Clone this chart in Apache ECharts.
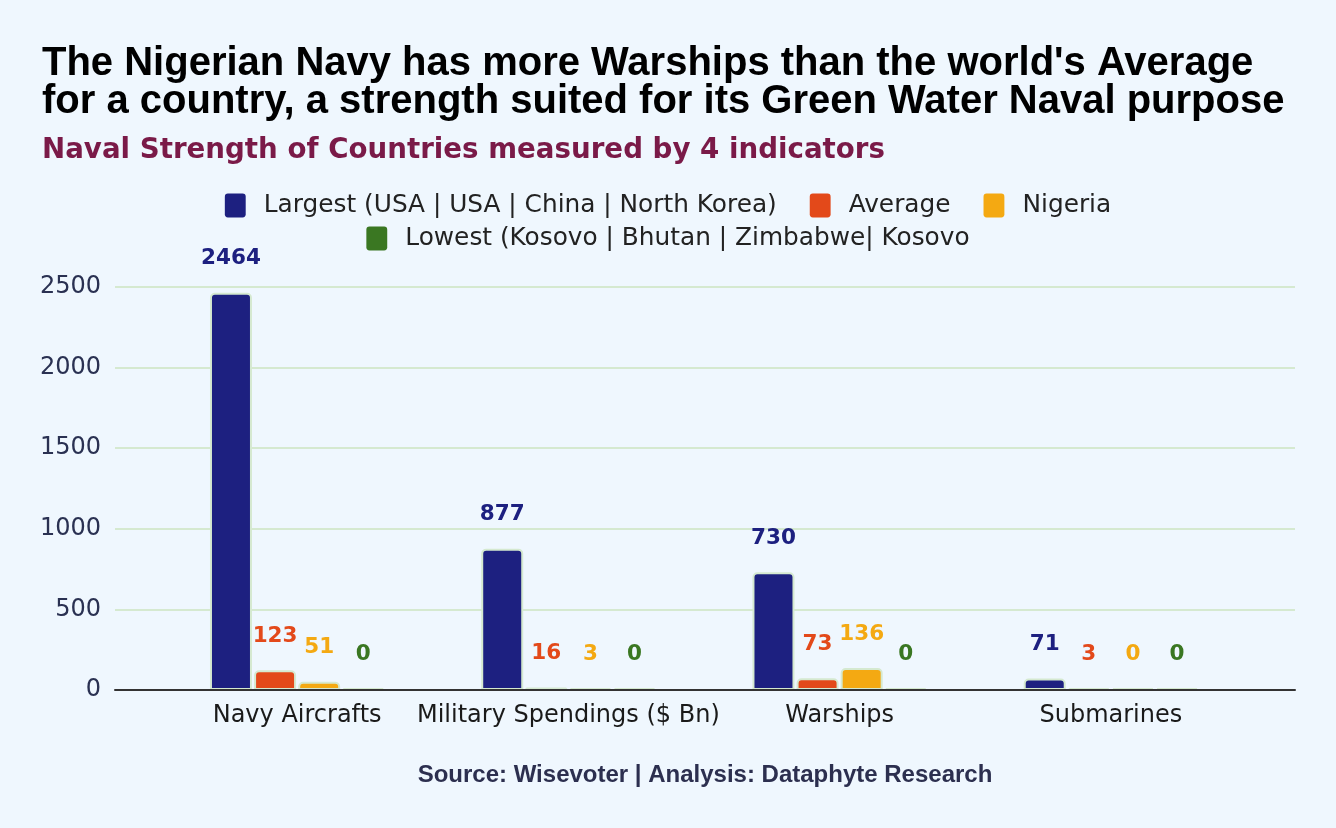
<!DOCTYPE html>
<html>
<head>
<meta charset="utf-8">
<script src="https://cdn.jsdelivr.net/npm/echarts@6/dist/echarts.min.js"></script>
<style>
html,body{margin:0;padding:0;background:#eff7fe;}
#chart{width:1336px;height:828px;}
</style>
</head>
<body>
<div id="chart"></div>
<script>
const categories = ['Navy Aircrafts', 'Military Spendings ($ Bn)', 'Warships', 'Submarines'];
const seriesNames = ['Largest (USA | USA | China | North Korea)', 'Average', 'Nigeria', 'Lowest (Kosovo | Bhutan | Zimbabwe| Kosovo'];
const largest = [2464, 877, 730, 71];
const average = [123, 16, 73, 3];
const nigeria = [51, 3, 136, 0];
const lowest = [0, 0, 0, 0];
const yTicks = [0, 500, 1000, 1500, 2000, 2500];

const colors = ['#1d2080', '#e3491a', '#f4a912', '#3a7722'];
const values = [largest, average, nigeria, lowest];
const ARIAL = "Liberation Sans";
const DEJAVU = "DejaVu Sans";
const ICON = 'path://M3,0H17Q20,0 20,3V20Q20,23 17,23H3Q0,23 0,20V3Q0,0 3,0Z';

const chart = echarts.init(document.getElementById('chart'));
const series = values.map((v, i) => ({
  name: seriesNames[i],
  type: 'bar',
  xAxisIndex: 1,
  yAxisIndex: 1,
  data: v,
  barWidth: 42,
  barGap: '5%',
  barMinHeight: 2,
  itemStyle: { color: colors[i], borderColor: '#d5e9d0', borderWidth: 2, borderRadius: [4, 4, 0, 0] },
  label: {
    show: true, position: 'top', distance: 23,
    color: colors[i], fontFamily: DEJAVU, fontWeight: 'bold', fontSize: 21.5
  }
}));

const legendText = { fontFamily: DEJAVU, fontSize: 24.8, color: '#222', padding: [0, 0, 0, 13] };

chart.setOption({
  backgroundColor: '#eff7fe',
  animation: false,
  title: [
    { text: "The Nigerian Navy has more Warships than the world's Average\nfor a country, a strength suited for its Green Water Naval purpose",
      left: 42, top: 45, padding: 0,
      textStyle: { fontFamily: ARIAL, fontWeight: 'bold', fontSize: 40, lineHeight: 38, color: '#000' } },
    { text: 'Naval Strength of Countries measured by 4 indicators', left: 42, top: 137, padding: 0,
      textStyle: { fontFamily: DEJAVU, fontWeight: 'bold', fontSize: 27.7, color: '#7a1a48' } },
    { text: 'Source: Wisevoter | Analysis: Dataphyte Research', left: 705, textAlign: 'center', top: 763, padding: 0,
      textStyle: { fontFamily: ARIAL, fontWeight: 'bold', fontSize: 24, color: '#2c2f4f' } }
  ],
  legend: [
    { data: seriesNames.slice(0, 3), left: 'center', top: 188, icon: ICON, itemWidth: 21, itemHeight: 24, itemGap: 33,
      itemStyle: { borderWidth: 0 }, textStyle: legendText },
    { data: seriesNames.slice(3), left: 'center', top: 221, icon: ICON, itemWidth: 21, itemHeight: 24,
      itemStyle: { borderWidth: 0 }, textStyle: legendText }
  ],
  grid: [
    { left: 115, right: 41, top: 287, bottom: 138 },
    { left: 161.5, right: 89.5, top: 287, bottom: 138 }
  ],
  xAxis: [
    { type: 'category', gridIndex: 0, data: [''], axisLabel: { show: false }, axisTick: { show: false },
      axisLine: { show: true, lineStyle: { color: '#333', width: 2 } }, z: 5 },
    { type: 'category', gridIndex: 1, data: categories, axisTick: { show: false }, axisLine: { show: false },
      axisLabel: { interval: 0, fontFamily: DEJAVU, fontSize: 24, color: '#1a1a1a', margin: 14 } }
  ],
  yAxis: [
    { type: 'value', gridIndex: 0, min: yTicks[0], max: yTicks[yTicks.length - 1], interval: 500,
      axisLine: { show: false }, axisTick: { show: false },
      splitLine: { lineStyle: { color: '#d5e9d0', width: 2 } },
      axisLabel: { formatter: v => String(v), fontFamily: DEJAVU, fontSize: 24, color: '#2a3152', margin: 14 } },
    { type: 'value', gridIndex: 1, min: yTicks[0], max: yTicks[yTicks.length - 1], interval: 500, show: false }
  ],
  series: series
});
</script>
</body>
</html>
